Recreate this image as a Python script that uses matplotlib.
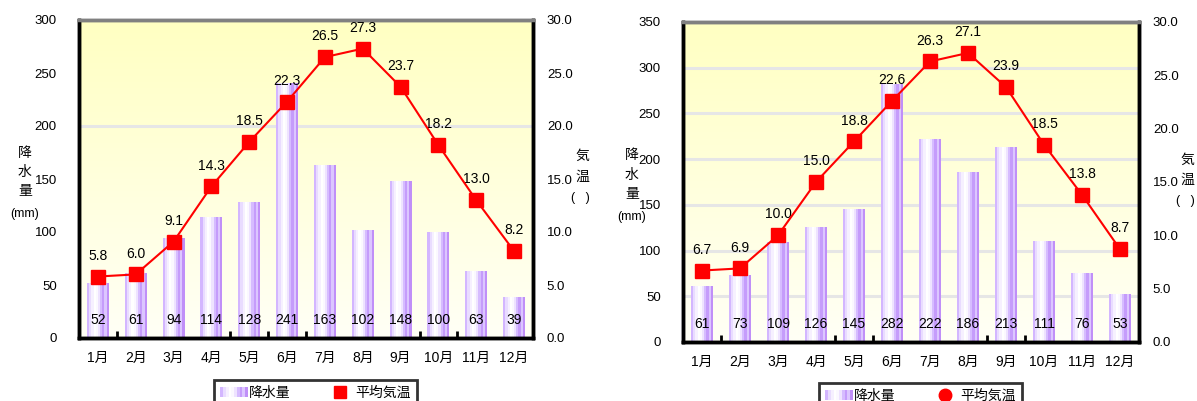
import matplotlib
matplotlib.use('Agg')
import matplotlib.pyplot as plt
import numpy as np
from matplotlib.patches import Rectangle
from matplotlib.lines import Line2D
from matplotlib.legend_handler import HandlerBase
import matplotlib.transforms as mtransforms

plt.rcParams['font.family'] = ['Liberation Sans', 'Noto Sans CJK JP']

# Datos
meses = ['1月', '2月', '3月', '4月', '5月', '6月', '7月', '8月', '9月', '10月', '11月', '12月']

lluvia_a = [52, 61, 94, 114, 128, 241, 163, 102, 148, 100, 63, 39]
temp_a = [5.8, 6.0, 9.1, 14.3, 18.5, 22.3, 26.5, 27.3, 23.7, 18.2, 13.0, 8.2]

lluvia_b = [61, 73, 109, 126, 145, 282, 222, 186, 213, 111, 76, 53]
temp_b = [6.7, 6.9, 10.0, 15.0, 18.8, 22.6, 26.3, 27.1, 23.9, 18.5, 13.8, 8.7]

W, H = 1197, 401

# colores de las franjas de cada barra (izquierda -> derecha)
franjas = ['#d3b6ff', '#e9dcff', '#f6f0ff', '#ffffff', '#fbf8ff', '#eee3ff',
           '#d6bcff', '#c59cfb', '#dcc6ff', '#c08ff8']


def px(x, y):
    return x / W, 1 - y / H


def barras_rayadas(ax, x, alturas, ancho=0.58):
    n = len(franjas)
    w = ancho / n
    for i, c in enumerate(franjas):
        ax.bar(np.array(x) - ancho / 2 + (i + 0.5) * w, alturas, width=w,
               color=c, linewidth=0, zorder=2)


class HandlerRayas(HandlerBase):
    def create_artists(self, legend, orig, xd, yd, width, height, fontsize, trans):
        arts = []
        n = len(franjas)
        for i, c in enumerate(franjas):
            r = Rectangle((xd + i * width / n, yd), width / n, height,
                          facecolor=c, edgecolor='none', transform=trans)
            arts.append(r)
        return arts


def panel(pos, lluvia, temp, ymax, rejilla, marcas, leyenda_pos, marcador_ley):
    ax = fig.add_axes(pos)
    ax2 = ax.twinx()
    x = np.arange(len(meses))

    # fondo degradado amarillo
    grad = np.linspace(1, 0, 256).reshape(-1, 1)
    cmap = matplotlib.colors.LinearSegmentedColormap.from_list(
        'fondo', ['#fffff6', '#ffffc2'])
    ax.imshow(grad, extent=[0, 1, 0, 1], transform=ax.transAxes,
              cmap=cmap, aspect='auto', zorder=0)

    for g in rejilla:
        ax.axhline(g, color='#e6e6e6', lw=2.2, zorder=1)

    barras_rayadas(ax, x, lluvia)
    for xi, v in zip(x, lluvia):
        ax.text(xi, 0.057, str(v), transform=mtransforms.blended_transform_factory(ax.transData, ax.transAxes),
                ha='center', va='center', fontsize=10, zorder=5)

    ax.set_xlim(-0.5, len(meses) - 0.5)
    ax.set_ylim(0, ymax)
    ax.set_yticks(np.arange(0, ymax + 1, 50))
    ax.set_xticks(x)
    ax.set_xticklabels(meses)
    ax.set_xticks(marcas, minor=True)
    ax.tick_params(axis='x', which='major', length=0, pad=9, labelsize=10)
    ax.tick_params(axis='x', which='minor', direction='in', length=5, width=2)
    ax.tick_params(axis='y', length=0, pad=16, labelsize=9.5)

    ax2.plot(x, temp, color='#ff0000', lw=1.5, marker='s', markersize=10.5,
             markerfacecolor='#ff0000', markeredgecolor='#ff0000', zorder=4)
    for xi, t in zip(x, temp):
        ax2.annotate(f'{t:.1f}', (xi, t), xytext=(0, 15), textcoords='offset points',
                     ha='center', va='center', fontsize=10)
    ax2.set_ylim(0, 30)
    ax2.set_yticks(np.arange(0, 31, 5))
    ax2.set_yticklabels([f'{v:.1f}' for v in np.arange(0, 31, 5)])
    ax2.tick_params(axis='y', length=0, pad=10, labelsize=9.5)

    for a in (ax, ax2):
        a.spines['left'].set_linewidth(2.5)
        a.spines['bottom'].set_linewidth(2.5)
        a.spines['right'].set_linewidth(2.5)
        a.spines['top'].set_color('#808080')
        a.spines['top'].set_linewidth(2.5)
    ax.set_zorder(1)
    ax2.set_zorder(2)
    ax2.patch.set_visible(False)

    # leyenda
    h_barra = Rectangle((0, 0), 1, 1)
    h_temp = Line2D([], [], color='#ff0000', marker=marcador_ley, linestyle='none', markersize=9)
    ley = fig.legend([h_barra, h_temp], ['降水量', '平均気温'], ncol=2,
                     loc='upper left', bbox_to_anchor=leyenda_pos,
                     handler_map={Rectangle: HandlerRayas()},
                     frameon=True, fancybox=False, edgecolor='black',
                     fontsize=10, handlelength=2.0, handletextpad=0.1,
                     columnspacing=2.5, borderpad=0.45)
    ley.get_frame().set_linewidth(2)
    return ax, ax2


fig = plt.figure(figsize=(W / 100, H / 100), dpi=100)

panel([79 / W, 63 / H, 454 / W, 318 / H], lluvia_a, temp_a, 300, [200],
      [0.5, 3.5, 4.5, 5.5, 8.5, 9.5], px(207, 373), 's')
panel([683 / W, 59 / H, 456 / W, 320 / H], lluvia_b, temp_b, 350, [50, 100, 150, 200, 250, 300],
      [0.5, 3.5, 4.5, 7.5, 8.5], px(812, 376), 'o')

# títulos de los ejes
for xx, ys in [(25, (153, 172, 191)), (632, (155, 175, 194))]:
    for ch, yy in zip('降水量', ys):
        fig.text(*px(xx, yy), ch, ha='center', va='center', fontsize=10)
fig.text(*px(25, 214), '(mm)', ha='center', va='center', fontsize=9)
fig.text(*px(632, 217), '(mm)', ha='center', va='center', fontsize=9)

for xx, ys in [(582, (156, 177)), (1187, (160, 180))]:
    for ch, yy in zip('気温', ys):
        fig.text(*px(xx, yy), ch, ha='center', va='center', fontsize=10)
fig.text(*px(580, 198), '(   )', ha='center', va='center', fontsize=9)
fig.text(*px(1185, 201), '(   )', ha='center', va='center', fontsize=9)

fig.savefig('out.png', dpi=100)
